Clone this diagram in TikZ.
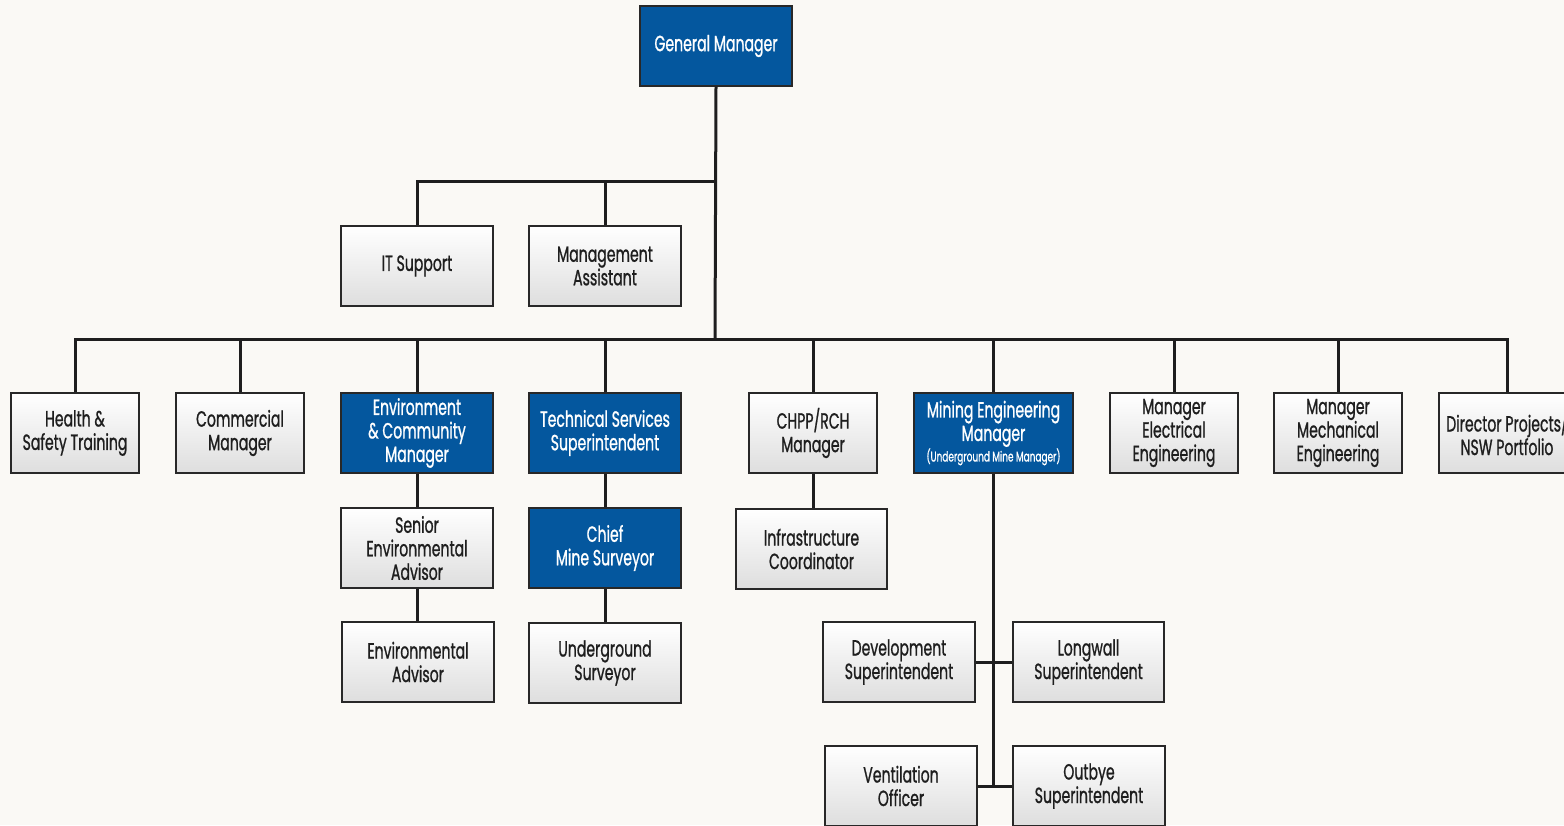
\documentclass[tikz,border=0pt]{standalone}
\usepackage{fontspec}
\setmainfont{Poppins}[FakeStretch=0.64,FakeBold=0.9]
\usetikzlibrary{positioning}
\definecolor{bg}{RGB}{250,249,245}
\definecolor{navy}{RGB}{4,87,158}
\definecolor{edge}{RGB}{40,40,40}
\definecolor{ink}{RGB}{30,30,30}
\begin{document}
\begin{tikzpicture}[x=1pt,y=-1pt,
  base/.style={draw=edge,line width=1.4pt,minimum height=80pt,inner sep=0pt,align=center,
    font=\fontsize{22}{23.5}\selectfont},
  wbox/.style={base,top color=white,bottom color=black!13,text=ink,minimum width=152pt},
  nbox/.style={wbox,minimum width=128pt},
  bbox/.style={base,fill=navy,text=white,minimum width=152pt},
  link/.style={draw=ink,line width=3pt}]
\fill[bg] (0,0) rectangle (1564,825);
\useasboundingbox (0,0) rectangle (1564,825);
% coordinates of junctions
\coordinate (j1) at (715,181);
\coordinate (j2) at (715,339);
% nodes
\node[bbox] (gm) at (716,46) {\raisebox{-2pt}{General Manager}};
\node[wbox] (it) at (417,266) {IT Support};
\node[wbox] (ma) at (605,266) {Management\\Assistant};
\node[nbox] (hs) at (75,433) {Health \&\\Safety Training};
\node[nbox] (cm) at (240,433) {Commercial\\Manager};
\node[bbox] (ecm) at (417,433) {Environment\\\& Community\\Manager};
\node[bbox] (tss) at (605,433) {Technical Services\\Superintendent};
\node[nbox] (chpp) at (813,433) {CHPP/RCH\\Manager};
\node[bbox,minimum width=159pt] (mem) at (993.5,433) {Mining Engineering\\Manager\\[-3pt]{\fontsize{14}{16}\selectfont(Underground Mine Manager)}};
\node[nbox] (mee) at (1174,433) {Manager\\Electrical\\Engineering};
\node[nbox] (mme) at (1338,433) {Manager\\Mechanical\\Engineering};
\node[wbox,minimum width=136pt] (dp) at (1507,433) {Director Projects/\\NSW Portfolio};
\node[wbox] (sea) at (417,548) {Senior\\Environmental\\Advisor};
\node[wbox] (ea) at (418,662) {Environmental\\Advisor};
\node[bbox] (cms) at (605,548) {Chief\\Mine Surveyor};
\node[wbox] (us) at (605,663) {Underground\\Surveyor};
\node[wbox,minimum width=151pt] (ic) at (811.5,549) {Infrastructure\\Coordinator};
\node[wbox] (dev) at (899,662) {Development\\Superintendent};
\node[wbox,minimum width=151pt] (lw) at (1088.5,662) {Longwall\\Superintendent};
\node[wbox] (vo) at (901,786) {Ventilation\\Officer};
\node[wbox] (ob) at (1089,786) {Outbye\\Superintendent};
\coordinate (j3) at (993.5,786);
% connectors
\path[link] (gm.south) -- (j2);
\path[link] (it.north) |- (j1);
\path[link] (ma.north) -- (ma.north |- j1);
\path[link] (hs.north) |- (j2);
\path[link] (dp.north) |- (j2);
\path[link] (cm.north) -- (cm.north |- j2);
\path[link] (ecm.north) -- (ecm.north |- j2);
\path[link] (tss.north) -- (tss.north |- j2);
\path[link] (chpp.north) -- (chpp.north |- j2);
\path[link] (mem.north) -- (mem.north |- j2);
\path[link] (mee.north) -- (mee.north |- j2);
\path[link] (mme.north) -- (mme.north |- j2);
\path[link] (ecm.south) -- (sea.north);
\path[link] (sea.south) -- (sea.south |- ea.north);
\path[link] (tss.south) -- (cms.north);
\path[link] (cms.south) -- (us.north);
\path[link] (chpp.south) -- (chpp.south |- ic.north);
\path[link] (mem.south) -- (j3);
\path[link] (dev.east) -- (lw.west);
\path[link] (vo.east) -- (ob.west);
\end{tikzpicture}
\end{document}
